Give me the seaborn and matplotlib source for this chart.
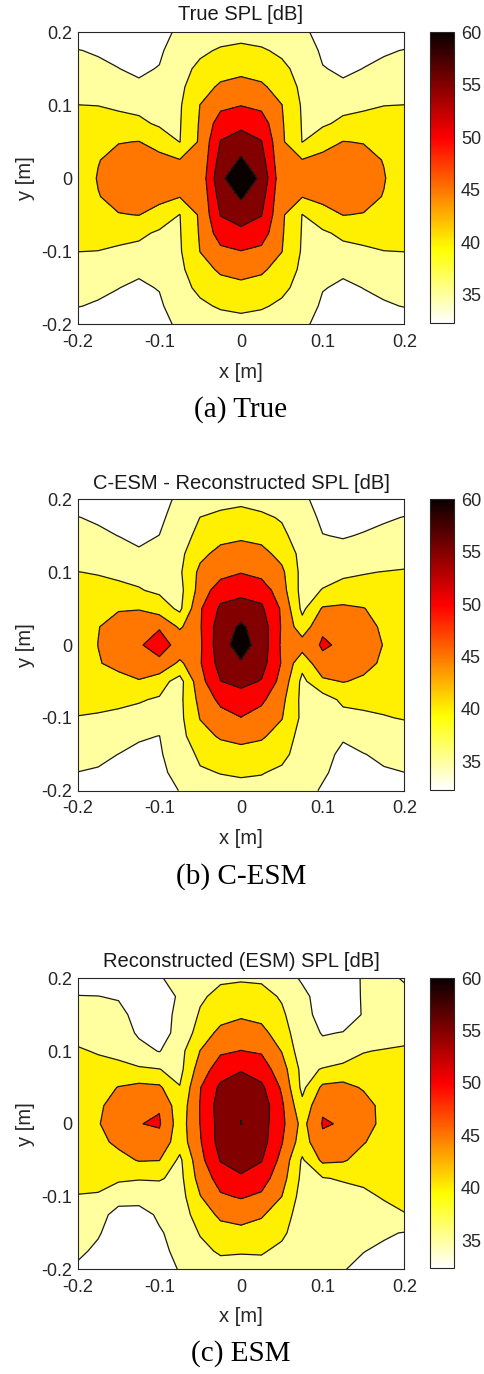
import numpy as np
import matplotlib
matplotlib.use("Agg")
import matplotlib.pyplot as plt
import seaborn as sns
from matplotlib.colors import Normalize
from matplotlib.cm import ScalarMappable

sns.set_theme(style="white")
plt.rcParams['font.family'] = ['Liberation Sans', 'DejaVu Sans']

# ---------------- data ----------------
x_grid = [-0.2, -0.175, -0.15, -0.125, -0.1, -0.075, -0.05, -0.025, 0.0,
          0.025, 0.05, 0.075, 0.1, 0.125, 0.15, 0.175, 0.2]
y_grid = [-0.2, -0.175, -0.15, -0.125, -0.1, -0.075, -0.05, -0.025, 0.0,
          0.025, 0.05, 0.075, 0.1, 0.125, 0.15, 0.175, 0.2]

contour_levels = [35, 40, 45, 50, 55, 60]
color_limits = [32.3, 60]
axis_ticks = [-0.2, -0.1, 0, 0.1, 0.2]
axis_tick_labels = ['-0.2', '-0.1', '0', '0.1', '0.2']
cbar_ticks = [35, 40, 45, 50, 55, 60]
cbar_tick_labels = ['35', '40', '45', '50', '55', '60']
titles = ['True SPL [dB]', 'C-ESM - Reconstructed SPL [dB]', 'Reconstructed (ESM) SPL [dB]']
captions = ['(a) True', '(b) C-ESM', '(c) ESM']

# rows: y from -0.2 (first) to 0.2 (last); columns: x from -0.2 to 0.2
spl_true = [
    [33.5, 33.3, 33.0, 32.8, 33.3, 36.0, 37.5, 38.0, 38.5, 38.0, 37.5, 36.0, 33.3, 32.8, 33.0, 33.3, 33.5],
    [35.1, 34.7, 34.2, 33.5, 34.3, 37.5, 39.2, 40.5, 41.0, 40.5, 39.2, 37.5, 34.3, 33.5, 34.2, 34.7, 35.1],
    [36.5, 35.6, 35.05, 34.4, 35.2, 38.5, 41.0, 43.0, 43.8, 43.0, 41.0, 38.5, 35.2, 34.4, 35.05, 35.6, 36.5],
    [38.3, 38.0, 37.2, 35.6, 36.5, 39.0, 43.0, 45.8, 46.6, 45.8, 43.0, 39.0, 36.5, 35.6, 37.2, 38.0, 38.3],
    [40.05, 39.95, 39.3, 38.7, 37.5, 39.5, 45.1, 48.8, 49.9, 48.8, 45.1, 39.5, 37.5, 38.7, 39.3, 39.95, 40.05],
    [40.7, 41.5, 41.5, 41.0, 39.3, 39.7, 45.5, 52.5, 53.4, 52.5, 45.5, 39.7, 39.3, 41.0, 41.5, 41.5, 40.7],
    [41.3, 43.0, 44.8, 45.1, 43.0, 39.9, 45.8, 55.2, 57.9, 55.2, 45.8, 39.9, 43.0, 45.1, 44.8, 43.0, 41.3],
    [41.8, 44.8, 46.5, 47.0, 46.5, 45.2, 46.0, 57.0, 60.5, 57.0, 46.0, 45.2, 46.5, 47.0, 46.5, 44.8, 41.8],
    [42.0, 45.3, 47.5, 48.0, 47.5, 46.0, 46.5, 59.0, 63.6, 59.0, 46.5, 46.0, 47.5, 48.0, 47.5, 45.3, 42.0],
    [41.8, 44.8, 46.5, 47.0, 46.5, 45.2, 46.0, 57.0, 60.5, 57.0, 46.0, 45.2, 46.5, 47.0, 46.5, 44.8, 41.8],
    [41.3, 43.0, 44.8, 45.1, 43.0, 39.9, 45.8, 55.2, 57.9, 55.2, 45.8, 39.9, 43.0, 45.1, 44.8, 43.0, 41.3],
    [40.7, 41.5, 41.5, 41.0, 39.3, 39.7, 45.5, 52.5, 53.4, 52.5, 45.5, 39.7, 39.3, 41.0, 41.5, 41.5, 40.7],
    [40.05, 39.95, 39.3, 38.7, 37.5, 39.5, 45.1, 48.8, 49.9, 48.8, 45.1, 39.5, 37.5, 38.7, 39.3, 39.95, 40.05],
    [38.3, 38.0, 37.2, 35.6, 36.5, 39.0, 43.0, 45.8, 46.6, 45.8, 43.0, 39.0, 36.5, 35.6, 37.2, 38.0, 38.3],
    [36.5, 35.6, 35.05, 34.4, 35.2, 38.5, 41.0, 43.0, 43.8, 43.0, 41.0, 38.5, 35.2, 34.4, 35.05, 35.6, 36.5],
    [35.1, 34.7, 34.2, 33.5, 34.3, 37.5, 39.2, 40.5, 41.0, 40.5, 39.2, 37.5, 34.3, 33.5, 34.2, 34.7, 35.1],
    [33.5, 33.3, 33.0, 32.8, 33.3, 36.0, 37.5, 38.0, 38.5, 38.0, 37.5, 36.0, 33.3, 32.8, 33.0, 33.3, 33.5],
]

spl_cesm = [
    [33.5, 33.2, 33.0, 32.8, 33.5, 35.1, 37.5, 38.0, 38.5, 38.2, 37.5, 36.3, 34.6, 33.0, 33.0, 33.3, 33.5],
    [34.95, 34.7, 33.9, 33.4, 34.3, 36.0, 39.3, 40.2, 40.6, 40.3, 39.0, 37.0, 35.5, 33.8, 33.8, 34.7, 34.98],
    [36.5, 35.7, 34.97, 34.2, 34.7, 36.5, 41.2, 43.0, 43.5, 43.0, 41.5, 37.5, 36.2, 34.2, 34.9, 35.6, 36.5],
    [38.3, 37.6, 36.5, 35.4, 34.95, 38.3, 43.5, 45.5, 46.3, 45.6, 43.2, 38.0, 36.5, 35.4, 36.5, 37.8, 38.5],
    [39.9, 39.7, 39.3, 38.8, 37.5, 38.8, 45.2, 48.2, 49.9, 48.0, 45.2, 39.0, 36.5, 38.5, 39.3, 39.8, 40.2],
    [40.8, 40.8, 40.7, 40.3, 39.6, 38.8, 46.5, 51.2, 52.5, 51.0, 46.3, 38.7, 37.75, 41.0, 41.0, 41.0, 40.8],
    [41.3, 42.5, 43.5, 44.6, 41.8, 38.2, 48.3, 54.9, 56.5, 54.7, 48.3, 38.8, 44.0, 45.2, 44.3, 42.8, 41.2],
    [41.8, 44.7, 46.3, 48.3, 49.44, 43.95, 49.6, 57.0, 59.5, 57.0, 49.6, 41.5, 48.9, 48.3, 46.3, 44.3, 41.8],
    [42.0, 45.05, 47.5, 49.75, 51.0, 49.2, 49.29, 58.2, 62.0, 58.0, 49.2, 47.4, 50.5, 49.36, 47.5, 44.8, 42.0],
    [41.8, 44.87, 46.5, 48.5, 49.8, 44.2, 49.6, 57.8, 60.7, 57.8, 49.5, 41.95, 49.4, 48.5, 46.5, 44.3, 41.8],
    [41.3, 43.0, 44.7, 44.7, 42.5, 39.0, 49.5, 55.8, 57.5, 55.8, 49.3, 38.9, 45.5, 46.0, 45.2, 43.0, 41.3],
    [40.8, 41.0, 40.8, 40.3, 39.2, 38.5, 47.0, 52.9, 53.3, 52.9, 47.0, 38.3, 40.2, 41.3, 41.3, 41.2, 41.0],
    [40.05, 39.8, 39.3, 38.7, 37.8, 39.3, 46.2, 48.1, 49.8, 48.3, 46.0, 38.5, 38.5, 39.3, 39.8, 40.1, 40.3],
    [38.3, 37.8, 36.8, 35.5, 36.3, 38.8, 43.8, 46.5, 47.2, 46.5, 43.5, 38.5, 36.8, 36.0, 37.0, 37.8, 38.5],
    [36.5, 35.7, 34.95, 34.2, 35.05, 38.2, 41.2, 43.5, 44.2, 43.5, 41.0, 37.8, 35.1, 34.8, 35.2, 35.8, 36.5],
    [35.1, 34.5, 33.8, 33.3, 34.0, 37.3, 40.05, 41.0, 41.5, 40.8, 39.6, 37.0, 34.2, 33.6, 34.2, 34.6, 35.1],
    [33.5, 33.2, 32.9, 32.7, 33.3, 36.0, 37.8, 38.5, 39.0, 38.3, 37.2, 35.8, 33.5, 33.0, 33.2, 33.3, 33.5],
]

spl_esm = [
    [34.3, 33.6, 33.3, 33.2, 33.5, 35.2, 37.2, 38.2, 38.0, 38.2, 37.5, 37.0, 36.3, 35.2, 34.0, 33.8, 33.5],
    [35.8, 34.2, 33.0, 32.8, 34.0, 36.0, 38.8, 40.6, 40.4, 40.5, 38.8, 37.0, 36.5, 36.0, 35.1, 34.3, 34.0],
    [37.0, 35.4, 32.8, 32.6, 34.5, 36.8, 40.3, 43.0, 43.5, 43.0, 41.0, 37.0, 36.8, 36.5, 36.8, 35.5, 34.8],
    [38.5, 37.0, 33.0, 33.0, 35.8, 37.5, 42.3, 46.0, 47.0, 45.5, 42.5, 37.5, 37.0, 37.0, 38.0, 38.5, 39.9],
    [39.9, 39.7, 37.3, 37.0, 37.0, 38.0, 44.8, 49.4, 50.4, 49.2, 45.0, 38.0, 37.0, 38.0, 39.0, 40.4, 40.6],
    [40.7, 41.0, 40.7, 40.3, 40.5, 38.5, 47.0, 52.0, 54.5, 52.2, 47.0, 38.8, 39.7, 40.5, 41.0, 41.2, 41.0],
    [41.3, 42.5, 43.5, 45.3, 45.1, 39.0, 48.5, 55.3, 56.5, 55.3, 48.5, 39.4, 46.0, 45.5, 43.2, 42.0, 41.3],
    [41.8, 43.8, 46.0, 48.0, 48.4, 42.2, 49.6, 57.0, 58.0, 57.0, 50.3, 42.5, 49.2, 48.5, 45.3, 43.0, 41.7],
    [42.0, 44.7, 47.5, 49.875, 50.5, 42.5, 50.1, 57.0, 60.1, 57.2, 51.2, 43.5, 50.3, 49.72, 47.8, 43.2, 41.8],
    [41.8, 44.3, 46.8, 48.8, 49.6, 42.0, 50.2, 57.5, 59.6, 57.8, 50.8, 41.2, 49.47, 48.8, 47.0, 43.5, 41.8],
    [41.5, 43.0, 45.2, 46.3, 45.8, 40.2, 49.8, 56.0, 57.0, 56.0, 49.3, 38.8, 46.0, 46.5, 44.5, 42.5, 41.6],
    [41.2, 41.2, 41.0, 40.6, 40.1, 38.5, 47.5, 52.5, 54.7, 52.5, 47.3, 38.5, 40.3, 41.5, 41.6, 41.8, 41.3],
    [40.4, 39.7, 39.0, 36.5, 34.8, 38.3, 45.1, 49.3, 50.1, 49.5, 44.8, 37.0, 36.0, 37.0, 39.8, 40.3, 40.6],
    [38.8, 38.0, 37.5, 34.3, 34.0, 35.8, 42.5, 46.2, 47.5, 46.4, 42.5, 36.5, 34.8, 35.1, 36.5, 37.5, 38.5],
    [36.8, 36.5, 36.0, 33.8, 34.5, 35.3, 40.6, 43.3, 44.3, 43.6, 40.8, 36.5, 33.5, 33.5, 35.2, 36.8, 36.8],
    [35.1, 35.05, 34.7, 33.3, 33.5, 35.4, 39.2, 41.5, 42.0, 41.6, 39.5, 36.0, 33.3, 33.3, 35.3, 36.0, 35.6],
    [33.5, 33.3, 33.2, 33.0, 34.8, 35.8, 38.0, 39.2, 39.5, 39.3, 37.0, 34.5, 33.8, 33.5, 35.3, 35.6, 34.8],
]

fields = [spl_true, spl_cesm, spl_esm]

# ---------------- layout (figure fractions) ----------------
W, H = 485, 1374
fig = plt.figure(figsize=(W / 100, H / 100), dpi=100)
fig.patch.set_facecolor('white')

ax_left, ax_right = 77.7, 404.3
cb_left, cb_right = 430.0, 454.0
panel_tops = [32.3, 499.3, 978.3]
panel_bottoms = [324.3, 790.7, 1269.3]
title_y = [14.0, 483.3, 961.7]
xlabel_y = [372.0, 838.0, 1317.0]
caption_y = [410.0, 877.0, 1354.0]

cmap = plt.get_cmap('hot_r')
norm = Normalize(vmin=color_limits[0], vmax=color_limits[1])
fill_levels = [0.0] + contour_levels + [100.0]
band_colors = [cmap(norm(v)) for v in [color_limits[0]] + contour_levels]

text_color = '#262626'
spine_color = '#262626'
tick_fs = 13
label_fs = 14.5

X, Y = np.meshgrid(np.array(x_grid), np.array(y_grid))

for k in range(3):
    top, bot = panel_tops[k], panel_bottoms[k]
    ax = fig.add_axes([ax_left / W, 1 - bot / H, (ax_right - ax_left) / W, (bot - top) / H])
    Z = np.array(fields[k])
    ax.contourf(X, Y, Z, levels=fill_levels, colors=band_colors)
    ax.contour(X, Y, Z, levels=contour_levels, colors='#1a1a1a', linewidths=0.9)
    ax.set_xlim(-0.2, 0.2)
    ax.set_ylim(-0.2, 0.2)
    ax.set_xticks(axis_ticks)
    ax.set_xticklabels(axis_tick_labels)
    ax.set_yticks(axis_ticks)
    ax.set_yticklabels(axis_tick_labels)
    ax.tick_params(axis='both', direction='in', length=4, width=0.7, colors=spine_color,
                   labelcolor=text_color, labelsize=tick_fs, top=True, right=True,
                   bottom=True, left=True)
    ax.tick_params(axis='x', pad=7)
    ax.tick_params(axis='y', pad=4)
    for s in ax.spines.values():
        s.set_color(spine_color)
        s.set_linewidth(0.8)
        s.set_visible(True)
    h = bot - top
    ax.text(0.5, 1 + (top - title_y[k]) / h, titles[k], transform=ax.transAxes,
            ha='center', va='center', fontsize=label_fs, color='#1a1a1a')
    ax.set_xlabel('x [m]', fontsize=label_fs, color=text_color)
    ax.xaxis.label.set_va('center')
    ax.xaxis.set_label_coords(0.5, -(xlabel_y[k] - bot) / h)
    ax.set_ylabel('y [m]', fontsize=label_fs, color=text_color)
    ax.yaxis.label.set_va('center')
    ax.yaxis.set_label_coords((25.0 - ax_left) / (ax_right - ax_left), 0.5)
    ax.grid(False)

    cax = fig.add_axes([cb_left / W, 1 - (bot - 1) / H, (cb_right - cb_left) / W, (bot - 1 - top) / H])
    sm = ScalarMappable(norm=norm, cmap=cmap)
    cb = fig.colorbar(sm, cax=cax, orientation='vertical')
    cb.set_ticks(cbar_ticks)
    cb.set_ticklabels(cbar_tick_labels)
    cax.tick_params(direction='in', length=4, width=0.7, colors=spine_color,
                    labelcolor=text_color, labelsize=tick_fs, pad=5, right=True, left=False)
    cb.outline.set_edgecolor(spine_color)
    cb.outline.set_linewidth(0.8)

    fig.text(241.0 / W, 1 - caption_y[k] / H, captions[k], ha='center', va='center',
             fontsize=21, color='black', family=['Liberation Serif', 'DejaVu Serif'])

fig.savefig('out.png', dpi=100, facecolor='white')
